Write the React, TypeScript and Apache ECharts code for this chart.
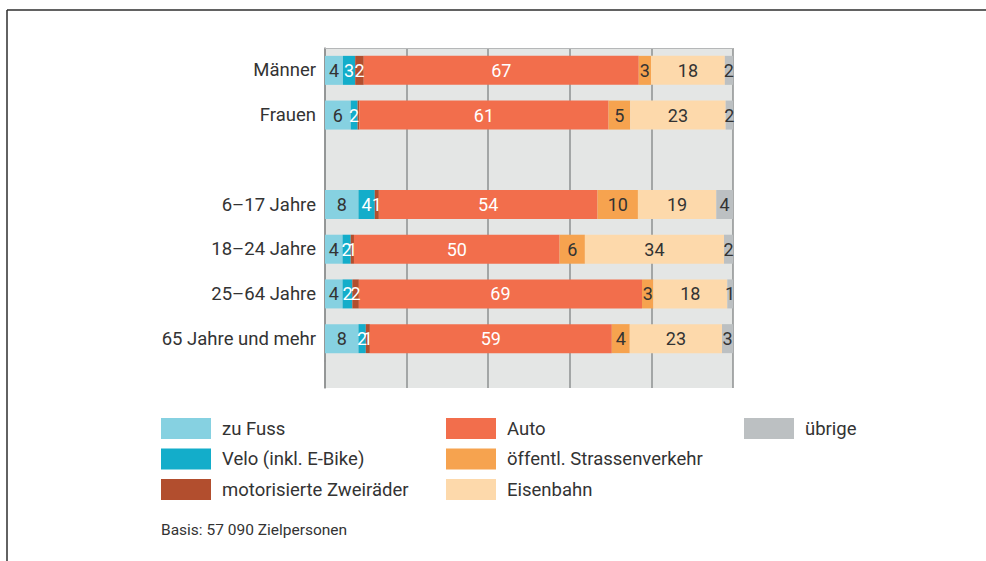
import React, { useEffect, useRef } from "react";
import * as echarts from "echarts";

const categories = ["Männer", "Frauen", "", "6–17 Jahre", "18–24 Jahre", "25–64 Jahre", "65 Jahre und mehr"];
const zuFuss = [4.4, 6.3, null, 8.2, 4.3, 4.3, 8.2];
const velo = [3.0, 1.7, null, 4.0, 2.0, 2.4, 1.8];
const motor = [2.1, 0.4, null, 1.0, 0.8, 1.6, 1.0];
const auto = [67.4, 61.1, null, 53.6, 50.4, 69.4, 59.3];
const oev = [3.0, 5.3, null, 9.9, 6.2, 2.8, 4.4];
const bahn = [18.1, 23.4, null, 19.2, 34.1, 18.1, 22.6];
const uebrige = [2.0, 1.8, null, 4.1, 2.2, 1.4, 2.7];

const seriesNames = [
  "zu Fuss",
  "Velo (inkl. E-Bike)",
  "motorisierte Zweiräder",
  "Auto",
  "öffentl. Strassenverkehr",
  "Eisenbahn",
  "übrige",
];
const seriesData = [zuFuss, velo, motor, auto, oev, bahn, uebrige];
const colors = ["#86d1e1", "#13adca", "#b24e2e", "#f26e4c", "#f6a34f", "#fdd9ab", "#bcc0c2"];
const labelColors = ["#333", "#fff", "#fff", "#fff", "#333", "#333", "#333"];
const note = "Basis: 57 090 Zielpersonen";

const FONT = "Roboto";

export default function App() {
  const ref = useRef<HTMLDivElement>(null);
  useEffect(() => {
    if (!ref.current) return;
    const chart = echarts.init(ref.current, null, { renderer: "svg" });
    const xCommon = {
      type: "value",
      min: 0,
      max: 100,
      interval: 20,
      axisLabel: { show: false },
      axisTick: { show: false },
      axisLine: { show: false },
      splitLine: { show: true, lineStyle: { color: "#8e9091", width: 1.5 } },
    };
    const legendCommon = {
      orient: "vertical",
      top: 418,
      padding: 0,
      itemWidth: 50,
      itemHeight: 21,
      itemGap: 9.5,
      icon: "rect",
      selectedMode: false,
      textStyle: { fontFamily: FONT, fontSize: 18.5, color: "#333", padding: [0, 0, 0, 6] },
    };
    chart.setOption({
      animation: false,
      backgroundColor: "#ffffff",
      grid: [
        { left: 325, top: 48, width: 408, height: 313, show: true, backgroundColor: "#e4e6e5", borderWidth: 0 },
        { left: 325, top: 361, width: 408, height: 27, show: true, backgroundColor: "#e4e6e5", borderWidth: 0 },
      ],
      xAxis: [
        { ...xCommon, gridIndex: 0, position: "top", axisLine: { show: true, onZero: false, lineStyle: { color: "#b5b7b8", width: 1 } } },
        { ...xCommon, gridIndex: 1 },
      ],
      yAxis: [
        {
          type: "category",
          gridIndex: 0,
          inverse: true,
          data: categories,
          axisTick: { show: false },
          axisLine: { show: true, lineStyle: { color: "#8e9091", width: 1.5 } },
          axisLabel: { margin: 9, fontFamily: FONT, fontSize: 18.5, color: "#333" },
        },
        {
          type: "category",
          gridIndex: 1,
          data: [""],
          axisTick: { show: false },
          axisLine: { show: true, lineStyle: { color: "#8e9091", width: 1.5 } },
          axisLabel: { show: false },
        },
      ],
      legend: [
        { ...legendCommon, left: 161, data: seriesNames.slice(0, 3) },
        { ...legendCommon, left: 446, data: seriesNames.slice(3, 6) },
        { ...legendCommon, left: 744, data: seriesNames.slice(6) },
      ],
      graphic: [
        { type: "line", shape: { x1: 7, y1: 10, x2: 986, y2: 10 }, style: { stroke: "#2e2e2e", lineWidth: 1.5 } },
        { type: "line", shape: { x1: 7, y1: 10, x2: 7, y2: 561 }, style: { stroke: "#2e2e2e", lineWidth: 1.5 } },
        {
          type: "text",
          left: 161,
          top: 522,
          style: { text: note, fontFamily: FONT, fontSize: 15.5, fill: "#333" },
        },
      ],
      series: seriesNames.map((name, i) => ({
        name,
        type: "bar",
        stack: "total",
        xAxisIndex: 0,
        yAxisIndex: 0,
        barWidth: 29,
        itemStyle: { color: colors[i] },
        data: seriesData[i],
        label: {
          show: true,
          position: "inside",
          fontFamily: FONT,
          fontSize: 18,
          color: labelColors[i],
          formatter: (p: any) => (p.value == null || p.value < 0.5 ? "" : String(Math.round(p.value))),
        },
      })),
    });
    return () => chart.dispose();
  }, []);
  return (
    <div
      ref={ref}
      style={{ position: "fixed", left: 0, top: 0, width: 986, height: 561 }}
    />
  );
}
